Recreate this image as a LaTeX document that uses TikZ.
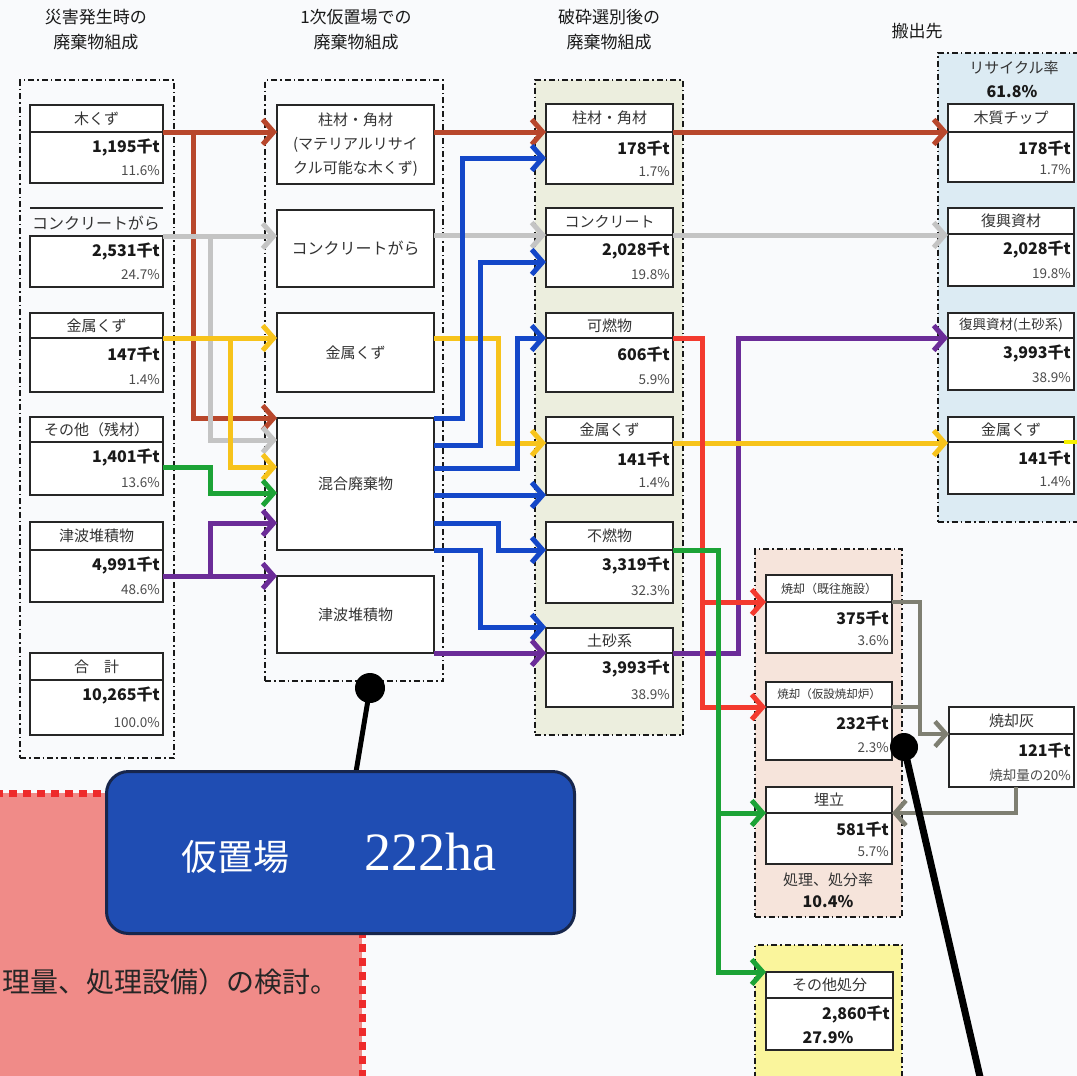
\documentclass[tikz,border=0pt]{standalone}
\usepackage{fontspec}
\setmainfont{Noto Sans CJK JP}
\newfontfamily\serifnum{Liberation Serif}
\usetikzlibrary{arrows.meta}
\definecolor{bgc}{HTML}{F9FAFC}
\definecolor{c3bg}{HTML}{ECEEDE}
\definecolor{c4bg}{HTML}{DCEBF3}
\definecolor{c5bg}{HTML}{F6E4DB}
\definecolor{c6bg}{HTML}{FAF59C}
\definecolor{pinkc}{HTML}{F08B88}
\definecolor{redborder}{HTML}{EE2B2B}
\definecolor{calloutblue}{HTML}{1F4DB3}
\definecolor{navy}{HTML}{17264C}
\definecolor{brownA}{HTML}{B8472C}
\definecolor{greyA}{HTML}{C4C4C4}
\definecolor{yellowA}{HTML}{F7C31B}
\definecolor{yellowB}{HTML}{F5F000}
\definecolor{greenA}{HTML}{1CA336}
\definecolor{purpleA}{HTML}{6B2C98}
\definecolor{blueA}{HTML}{1447C8}
\definecolor{redA}{HTML}{F33A2E}
\definecolor{ashA}{HTML}{7F7F72}

\newcommand\dbox[9]{%
  \pgfmathsetmacro\dbW{#4-#2}%
  \pgfmathsetmacro\dbH{#6-#3}%
  \pgfmathsetmacro\dbCX{(#2+#4)/2}%
  \pgfmathsetmacro\dbHY{(#3+#5)/2}%
  \pgfmathsetmacro\dbVY{#5+16}%
  \pgfmathsetmacro\dbPY{#6-12}%
  \pgfmathsetmacro\dbRX{#4-3}%
  \node[dbox,minimum width=\dbW pt,minimum height=\dbH pt,anchor=north west] (#1) at (#2,#3) {};%
  \draw[boxline] (#1.west |- 0,#5) -- (#1.east |- 0,#5);%
  \node[lbl] (#1-h) at (\dbCX,\dbHY) {#7};%
  \node[num,anchor=east] (#1-v) at (\dbRX,\dbVY) {#8};%
  \node[pct,anchor=east] (#1-p) at (\dbRX,\dbPY) {#9};%
}

\begin{document}
\begin{tikzpicture}[x=1pt,y=-1pt,
  dbox/.style={draw=black!85,line width=1.1pt,fill=white,inner sep=0pt,outer sep=0pt},
  boxline/.style={draw=black!85,line width=1.1pt},
  box2/.style={dbox,minimum width=157pt,align=center,font=\fontsize{15}{24}\selectfont,text=black!80},
  grp/.style={draw=black!90,line width=1.5pt,dash pattern=on 6pt off 3pt on 1.5pt off 3pt,inner sep=0pt,outer sep=0pt},
  lbl/.style={font=\fontsize{15}{17}\selectfont,text=black!80,inner sep=0pt},
  num/.style={font=\bfseries\fontsize{16}{18}\selectfont,text=black!90,inner sep=0pt},
  pct/.style={font=\fontsize{13.5}{15}\selectfont,text=black!70,inner sep=0pt},
  ttl/.style={font=\fontsize{17}{25}\selectfont,align=center,inner sep=0pt,text=black!90},
  flow/.style={line width=5pt,-{Straight Barb[length=11pt,width=25pt]}},
  seg/.style={line width=5pt},
]
\useasboundingbox (0,0) rectangle (1077,1076);
\clip (0,0) rectangle (1077,1076);
\fill[bgc] (0,0) rectangle (1077,1076);

% titles
\node[ttl] (t1) at (96,30) {災害発生時の\\廃棄物組成};
\node[ttl] (t2) at (356,30) {1次仮置場での\\廃棄物組成};
\node[ttl] (t3) at (609,30) {破砕選別後の\\廃棄物組成};
\node[ttl] (t4) at (917,31) {搬出先};

% group frames
\node[grp,minimum width=154pt,minimum height=678pt,anchor=north west] (g1) at (20,80) {};
\node[grp,minimum width=178pt,minimum height=601pt,anchor=north west] (g2) at (265,80) {};
\node[grp,fill=c3bg,minimum width=148pt,minimum height=655pt,anchor=north west] (g3) at (535,80) {};
\node[grp,fill=c4bg,minimum width=160pt,minimum height=469pt,anchor=north west] (g4) at (938,53) {};
\node[grp,fill=c5bg,minimum width=147pt,minimum height=368pt,anchor=north west] (g5) at (755,549) {};
\node[grp,fill=c6bg,minimum width=147pt,minimum height=160pt,anchor=north west] (g6) at (755,945) {};

\node[lbl] (g4a) at (1014,68) {リサイクル率};
\node[num] (g4b) at (1012,92) {61.8\%};
\node[lbl] (g5a) at (828,880) {処理、処分率};
\node[num] (g5b) at (828,902) {10.4\%};

% pink region
\fill[pinkc] (-5,793) rectangle (362,1090);
\draw[redborder,line width=7pt,dash pattern=on 8pt off 6pt] (-5,793) -- (362,793) -- (362,1090);
\node[font=\fontsize{28}{31}\selectfont,anchor=west,inner sep=0pt,text=black!85] (pinktxt) at (2,982) {理量、処理設備）の検討。};

% column 1
\dbox{a1}{30}{105}{163}{132}{183}{木くず}{1,195千t}{11.6\%}
\draw[boxline] (30,208) -- (163,208);
\node[dbox,minimum width=133pt,minimum height=51pt,anchor=north west] (a2) at (30,236) {};
\node[lbl,font=\fontsize{16}{18}\selectfont] (a2-h) at (96,223) {コンクリートがら};
\node[num,anchor=east] (a2-v) at (160,252) {2,531千t};
\node[pct,anchor=east] (a2-p) at (160,275) {24.7\%};
\dbox{a3}{30}{313}{163}{338}{392}{金属くず}{147千t}{1.4\%}
\dbox{a4}{30}{417}{163}{442}{495}{その他（残材）}{1,401千t}{13.6\%}
\dbox{a5}{30}{522}{163}{550}{602}{津波堆積物}{4,991千t}{48.6\%}
\dbox{a6}{30}{653}{163}{680}{735}{合　計}{10,265千t}{100.0\%}

% column 2
\node[box2,anchor=north west,minimum height=79pt] (b1) at (277,105) {柱材・角材\\(マテリアルリサイ\\クル可能な木くず)};
\node[box2,anchor=north west,minimum height=77pt,font=\fontsize{16}{18}\selectfont] (b2) at (277,210) {コンクリートがら};
\node[box2,anchor=north west,minimum height=79pt] (b3) at (277,313) {金属くず};
\node[box2,anchor=north west,minimum height=132pt] (b4) at (277,418) {混合廃棄物};
\node[box2,anchor=north west,minimum height=77pt] (b5) at (277,576) {津波堆積物};

% column 3
\dbox{c1}{546}{104}{673}{132}{184}{柱材・角材}{178千t}{1.7\%}
\dbox{c2}{546}{208}{673}{235}{287}{コンクリート}{2,028千t}{19.8\%}
\dbox{c3}{546}{313}{673}{338}{392}{可燃物}{606千t}{5.9\%}
\dbox{c4}{546}{417}{673}{443}{495}{金属くず}{141千t}{1.4\%}
\dbox{c5}{546}{522}{673}{550}{603}{不燃物}{3,319千t}{32.3\%}
\dbox{c6}{546}{628}{673}{653}{707}{土砂系}{3,993千t}{38.9\%}

% column 4
\dbox{d1}{948}{104}{1074}{132}{182}{木質チップ}{178千t}{1.7\%}
\dbox{d2}{948}{208}{1074}{234}{286}{復興資材}{2,028千t}{19.8\%}
\dbox{d3}{948}{313}{1074}{338}{390}{{\fontsize{13.5}{15}\selectfont 復興資材(土砂系)}}{3,993千t}{38.9\%}
\dbox{d4}{948}{417}{1074}{442}{494}{金属くず}{141千t}{1.4\%}

% processing
\dbox{e1}{766}{575}{892}{602}{653}{{\fontsize{12}{13}\selectfont 焼却（既往施設）}}{375千t}{3.6\%}
\dbox{e2}{766}{682}{892}{707}{760}{{\fontsize{11.5}{13}\selectfont 焼却（仮設焼却炉）}}{232千t}{2.3\%}
\dbox{e3}{766}{787}{892}{813}{864}{埋立}{581千t}{5.7\%}
\dbox{f1}{949}{707}{1074}{734}{787}{焼却灰}{121千t}{焼却量の20\%}
\dbox{h1}{766}{972}{893}{998}{1050}{その他処分}{2,860千t}{}
\node[num] (h1-q) at (828,1038) {27.9\%};

% flows column 1 -> 2
\draw[flow,brownA] (a1.east |- 0,132) -- (b1.west |- 0,132);
\draw[flow,brownA] (a1.east |- 0,132) -- ++(30,0) |- (b4.west |- 0,418);
\draw[flow,greyA] (a2.north east) -- (b2.west |- 0,236);
\draw[flow,greyA] (a2.north east) -- ++(47,0) |- (b4.west |- 0,440);
\draw[flow,yellowA] (a3.east |- 0,338) -- (b3.west |- 0,338);
\draw[flow,yellowA] (a3.east |- 0,338) -- ++(67,0) |- (b4.west |- 0,467);
\draw[flow,greenA] (a4.east |- 0,467) -- ++(47,0) |- (b4.west |- 0,493);
\draw[flow,purpleA] (a5.east |- 0,576) -- (b5.west |- 0,576);
\draw[flow,purpleA] (a5.east |- 0,576) -- ++(47,0) |- (b4.west |- 0,523);

% flows column 2 -> 3
\draw[flow,brownA] (b1.east |- 0,132) -- (c1.west |- 0,132);
\draw[flow,greyA] (b2.east |- 0,235) -- (c2.west |- 0,235);
\draw[flow,yellowA] (b3.east |- 0,338) -- ++(64,0) |- (c4.west |- 0,443);
\draw[flow,blueA] (b4.east |- 0,418) -- ++(28,0) |- (c1.west |- 0,158);
\draw[flow,blueA] (b4.east |- 0,445) -- ++(46,0) |- (c2.west |- 0,262);
\draw[flow,blueA] (b4.east |- 0,468) -- ++(83,0) |- (c3.west |- 0,338);
\draw[flow,blueA] (b4.east |- 0,495) -- (c4.west |- 0,495);
\draw[flow,blueA] (b4.east |- 0,523) -- ++(64,0) |- (c5.west |- 0,550);
\draw[flow,blueA] (b4.east |- 0,550) -- ++(46,0) |- (c6.west |- 0,627);
\draw[flow,purpleA] (b5.east |- 0,653) -- (c6.west |- 0,653);

% flows column 3 -> destinations
\draw[flow,brownA] (c1.east |- 0,132) -- (d1.west |- 0,132);
\draw[flow,greyA] (c2.east |- 0,235) -- (d2.west |- 0,235);
\draw[flow,purpleA] (c6.east |- 0,653) -- ++(65,0) |- (d3.west |- 0,338);
\draw[flow,yellowA] (c4.east |- 0,443) -- (d4.west |- 0,443);
\draw[flow,redA] (c3.east |- 0,338) -- ++(29,0) |- (e1.west |- 0,602);
\draw[flow,redA] (c3.east |- 0,338) -- ++(29,0) |- (e2.west |- 0,707);
\draw[flow,greenA] (c5.east |- 0,550) -- ++(45,0) |- (e3.west |- 0,813);
\draw[flow,greenA] (c5.east |- 0,550) -- ++(45,0) |- (h1.north west);
\draw[seg,yellowB,line width=4pt] (d4.east |- 0,442) ++(-10,0) -- ++(20,0);

% ash flows
\draw[flow,ashA,line width=4.5pt] (e1.east |- 0,602) -- ++(28,0) |- (f1.west |- 0,734);
\draw[seg,ashA,line width=4.5pt] (e2.east |- 0,707) -- ++(29,0);
\draw[flow,ashA,line width=4.5pt] (f1.south -| 1016,0) |- (e3.east |- 0,813);

% callout
\node[circle,fill=black,minimum size=30pt,inner sep=0pt] (p1) at (370,688) {};
\draw[line width=5pt] (p1.center) -- (356,772);
\node[draw=navy,line width=3pt,fill=calloutblue,rounded corners=22pt,minimum width=468pt,minimum height=162pt,anchor=north west] (callout) at (105,770) {};
\node[text=white,inner sep=0pt] (callout-t) at (339,853) {{\fontsize{36}{40}\selectfont 仮置場}\hspace{75pt}{\serifnum\fontsize{54}{56}\selectfont 222ha}};

% second pointer
\node[circle,fill=black,minimum size=28pt,inner sep=0pt] (p2) at (904,747) {};
\coordinate (p2end) at (983,1090);
\draw[line width=7pt] (p2.center) -- (p2end);
\end{tikzpicture}
\end{document}
